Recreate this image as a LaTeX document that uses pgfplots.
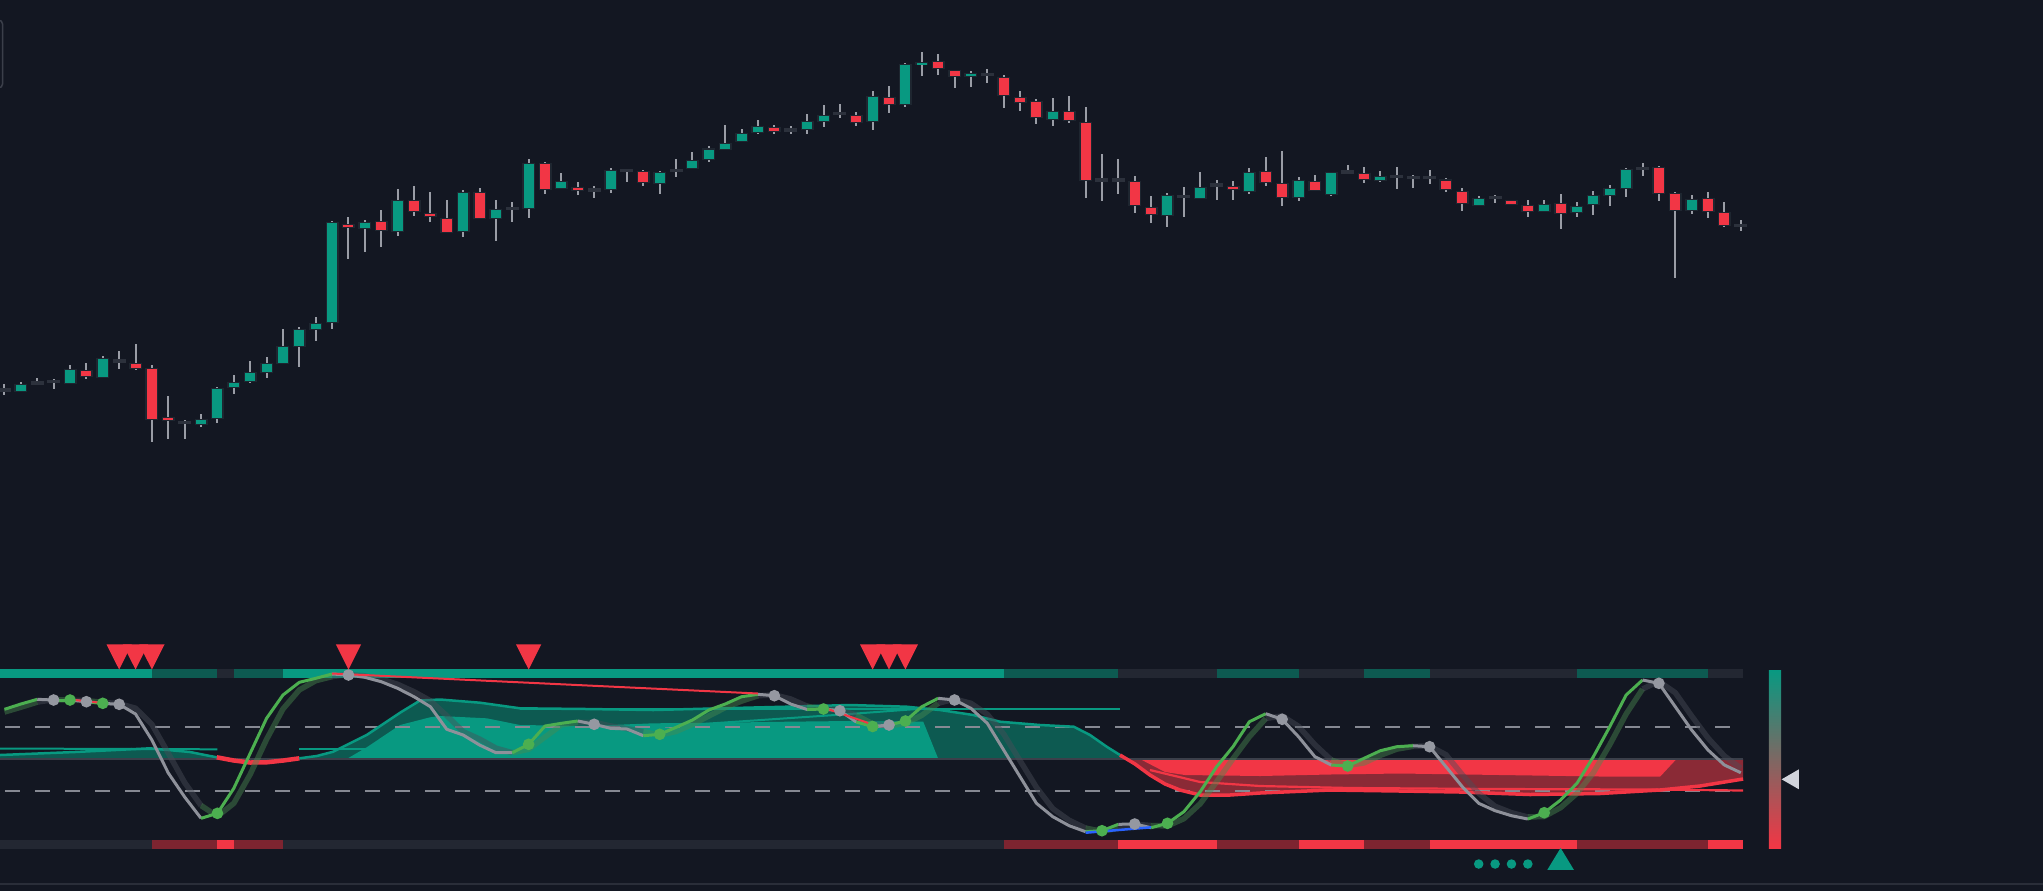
\documentclass[border=0pt]{standalone}
\usepackage{pgfplots}
\usepackage{pgfplotstable}
\pgfplotsset{compat=1.18}
\definecolor{tvbg}{HTML}{131722}
\definecolor{tvteal}{HTML}{089981}
\definecolor{tvred}{HTML}{F23645}
\definecolor{wickc}{HTML}{9A9DA6}
\definecolor{bordc}{HTML}{1E2630}
\definecolor{dojic}{HTML}{2C313C}
\definecolor{dteal}{HTML}{0D5A51}
\definecolor{dred}{HTML}{7D2430}
\definecolor{sgray}{HTML}{232732}
\definecolor{fdred}{HTML}{8A2A36}
\definecolor{kG}{HTML}{4CAF50}
\definecolor{kY}{HTML}{8E919A}
\definecolor{dotgray}{HTML}{9598A1}
\definecolor{dashc}{HTML}{868993}
\definecolor{midc}{HTML}{3B3F4A}
\definecolor{sepc}{HTML}{2A2E39}
\definecolor{blueline}{HTML}{2962FF}
\definecolor{ptrc}{HTML}{D1D4DC}
\definecolor{gradmid}{HTML}{7E6A6C}
\definecolor{dshY}{HTML}{4A4E59}
\definecolor{dshG}{HTML}{4A8A50}

% candles: i open high low close type (values are screen rows, axis reversed)
\pgfplotstableread{
i o h l c t
0 390 384 395 390 0
1 391.3 382 392 385.3 1
2 383 378.3 383.5 383 0
3 381.7 379.3 389.3 381.7 0
4 382.7 365 383.3 370.3 1
5 371.3 362.7 378.7 375.7 -1
6 376.7 356 377.3 359 1
7 361 351 368.7 361 0
8 364.3 344 369.7 367.7 -1
9 369 365 441.7 418.7 -1
10 418.3 396 438.7 420 -1
11 422.7 420 438.7 422.7 0
12 424.3 414 426.7 420 1
13 418.3 387.3 422.7 389 1
14 387.3 375 393.7 383.3 1
15 380.7 361 382.7 373 1
16 371.7 357 378 364 1
17 362.7 329 362.7 347.3 1
18 345.7 327.3 366.7 330 1
19 328.5 317 341 324.3 1
20 321.7 221 329 223.3 1
21 225 217.3 259 227.3 -1
22 228.3 220 252 222.7 1
23 222.3 210 246.7 230.3 -1
24 231 189 236 201.3 1
25 201.3 186 216 211.3 -1
26 214.3 192 221.7 216.3 -1
27 219.3 200 231.7 231.7 -1
28 231 190 236.7 193.3 1
29 193.3 188 217.7 217.7 -1
30 217.7 200 240.7 209.7 1
31 208.3 202 221.7 208.3 0
32 207.7 159.3 217.7 164.3 1
33 164.3 162.3 194 189 -1
34 188.3 173 189.3 182.3 1
35 188 182 195 190 -1
36 190 186 197.7 190 0
37 188.7 168.3 192.7 171 1
38 170.7 170 182 170.7 0
39 172 170 186 182.3 -1
40 182.7 171 193.7 173.3 1
41 170.7 159 176.7 170.7 0
42 167.7 152 168.3 161 1
43 158.7 146 161.7 149.5 1
44 148.7 125 150 143.7 1
45 140.7 129.3 142.3 133.7 1
46 131.7 120 133.7 126.7 1
47 128 125.3 134.3 130.7 -1
48 130 126 134.3 130 0
49 129.3 114 134 122 1
50 120.7 105 126.7 115.7 1
51 113.3 104 118 113.3 0
52 115.7 112 126 121.7 -1
53 121 91 130 97.3 1
54 97.7 86 112.7 104 -1
55 104.3 63.3 106.7 65 1
56 64.3 52 75.7 63 1
57 62 54 74.7 68 -1
58 70.7 70.7 87.7 76 -1
59 75.5 71 86.7 74.3 1
60 74.3 69 82.7 74.3 0
61 77.7 74.7 107.7 95.3 -1
62 97.7 91 110.7 101.7 -1
63 102.3 99 124 117.3 -1
64 119.3 98 125.7 112.3 1
65 112.3 96 123.3 120.3 -1
66 123.3 107 197.7 180 -1
67 180 154 200.7 180 0
68 180 159 194 180 0
69 182.3 176 212.7 205 -1
70 207.7 196 222.7 214 -1
71 215.3 193.3 226.7 196 1
72 196.7 187 216.7 196.7 0
73 197.7 172 198.3 188.3 1
74 185 180 200 185 0
75 186.7 180.7 200 189 -1
76 190.7 168 194 172.7 1
77 172 157 185.7 181.7 -1
78 184.3 151 205.7 196.7 -1
79 196.7 177 201 181.3 1
80 181.7 175 190.7 190 -1
81 194 171.7 195.7 173.3 1
82 172 165 172.5 172 0
83 173.7 166.7 182.7 179.3 -1
84 180 171 181.7 176.7 1
85 176.7 166.7 189 176.7 0
86 177.7 175 187.7 177.7 0
87 177.7 170 184 177.7 0
88 180.5 178 191.7 188.7 -1
89 191.7 187.7 211 203.3 -1
90 205.3 196 206 199.3 1
91 197.3 195 203 197.3 0
92 200.7 200 204.5 203.7 -1
93 205.7 200.3 217 211.3 -1
94 211.3 200.3 212 205.3 1
95 204.3 194 229 213 -1
96 212.3 202 217 207 1
97 203.7 191 214.7 196.3 1
98 195.3 185 206 189 1
99 187.7 168 196.7 169.7 1
100 168.7 163 175.7 168.7 0
101 168.3 166 201 193.3 -1
102 194 192.3 277.7 210.3 -1
103 209.7 195 213.7 200 1
104 199.3 192 217.7 211.3 -1
105 213 202 227.3 225 -1
106 225.3 220 230.7 225.3 0
}\candles

% oscillator: main line k and its signal d
\pgfplotstableread{
i k d
0 709.3 712
1 704 707.2
2 699.3 702.1
3 700 699.6
4 700 700
5 701.7 700.7
6 703.3 702.3
7 704.3 703.7
8 714 708.2
9 740 724.4
10 773 753.2
11 797 782.6
12 818.3 805.5
13 813.3 816.3
14 788.3 803.3
15 753.3 774.3
16 718.3 739.3
17 695 709
18 682.3 689.9
19 678.3 680.7
20 674 676.6
21 675 674.4
22 677.3 675.9
23 681.7 679.1
24 688.3 684.3
25 696.7 691.7
26 706.7 700.7
27 729.3 715.7
28 735 731.6
29 745 739
30 752.7 748.1
31 752.7 752.7
32 744.3 749.3
33 726 737
34 723.3 724.9
35 721 722.4
36 724.3 722.3
37 728.3 725.9
38 729 728.6
39 735.7 731.7
40 734.3 735.1
41 727.3 731.5
42 720 724.4
43 710 716
44 704 707.6
45 696.7 701.1
46 694.3 695.7
47 695.7 694.9
48 704 699
49 709.5 706.2
50 709 709.3
51 710.7 709.7
52 722 715.2
53 726.5 723.8
54 725 725.9
55 721 723.4
56 706.7 715.3
57 698.3 703.3
58 700 699
59 708.3 703.3
60 723.3 714.3
61 750 734
62 776.7 760.7
63 803.3 787.3
64 816.7 808.7
65 825.7 820.3
66 831.7 828.1
67 830.7 831.3
68 824.3 828.1
69 824 824.2
70 827.7 825.5
71 823.3 825.9
72 811.7 818.7
73 791.7 803.7
74 766.7 781.7
75 746.7 758.7
76 721.7 736.7
77 713.7 718.5
78 719.3 715.9
79 736.7 726.3
80 756.7 744.7
81 765 760
82 766 765.4
83 758.3 762.9
84 750.7 755.3
85 746.7 749.1
86 745.7 746.3
87 746.7 746.1
88 766.7 754.7
89 786.7 774.7
90 803.3 793.3
91 810.7 806.3
92 815.7 812.7
93 819 817
94 812.7 816.5
95 800 807.6
96 783.3 793.3
97 756.7 772.7
98 726.7 744.7
99 695 714
100 680 689
101 683.3 681.3
102 706.7 692.7
103 730 716
104 750 738
105 765 756
106 772.7 768.1
}\osc

\newcommand{\allruns}[1]{%
#1{0}{2}{G}#1{2}{3}{Y}#1{3}{4}{G}#1{4}{5}{Y}#1{5}{6}{G}#1{6}{12}{Y}%
#1{12}{20}{G}#1{20}{31}{Y}#1{31}{35}{G}#1{35}{39}{Y}#1{39}{46}{G}%
#1{46}{49}{Y}#1{49}{50}{G}#1{50}{52}{Y}#1{52}{53}{G}#1{53}{54}{Y}%
#1{54}{57}{G}#1{57}{66}{Y}#1{66}{68}{G}#1{68}{70}{Y}#1{70}{77}{G}%
#1{77}{81}{Y}#1{81}{86}{G}#1{86}{93}{Y}#1{93}{100}{G}#1{100}{106}{Y}}
\newcommand{\drun}[3]{\addplot[color=dsh#3, line width=0.55mm, draw opacity=0.45, line join=round] table[x=i,y=d,restrict x to domain=#1:#2]{\osc};}
\newcommand{\krun}[3]{\addplot[color=k#3, line width=0.3mm, line join=round] table[x=i,y=k,restrict x to domain=#1:#2]{\osc};}
\newcommand{\tstrip}[3]{\addplot[color=#3, line width=0.9mm] coordinates {(#1,673.8) (#2,673.8)};}
\newcommand{\bstrip}[3]{\addplot[color=#3, line width=0.9mm] coordinates {(#1,844.5) (#2,844.5)};}

\begin{document}
\begin{tikzpicture}
\fill[tvbg] (0,0) rectangle (204.3mm,89.1mm);
\begin{axis}[at={(0,0)}, anchor=south west, scale only axis,
  width=204.3mm, height=89.1mm,
  xmin=-0.2747, xmax=124.45, ymin=0, ymax=891, y dir=reverse,
  hide axis, clip=true,
  candle/.style={draw=none, mark=none, forget plot,
     error bars/y dir=both, error bars/y explicit, error bars/error mark=none}]

% ---------- candles ----------
\addplot[candle, error bars/error bar style={line width=0.2mm, draw=wickc}]
  table[x=i, y expr={(\thisrow{h}+\thisrow{l})/2}, y error expr={(\thisrow{l}-\thisrow{h})/2}]{\candles};
\addplot[candle, restrict expr to domain={abs(\thisrow{t})}{0.5:1.5},
  error bars/error bar style={line width=1.3mm, draw=bordc}]
  table[x=i, y expr={(\thisrow{o}+\thisrow{c})/2}, y error expr={max(abs(\thisrow{o}-\thisrow{c})/2,0.7)+1.1}]{\candles};
\addplot[candle, restrict expr to domain={\thisrow{t}}{-0.5:0.5},
  error bars/error bar style={line width=1.3mm, draw=dojic}]
  table[x=i, y expr={(\thisrow{o}+\thisrow{c})/2}, y error expr={1.6}]{\candles};
\addplot[candle, restrict expr to domain={\thisrow{t}}{0.5:1.5},
  error bars/error bar style={line width=1.0mm, draw=tvteal}]
  table[x=i, y expr={(\thisrow{o}+\thisrow{c})/2}, y error expr={max(abs(\thisrow{o}-\thisrow{c})/2,0.7)}]{\candles};
\addplot[candle, restrict expr to domain={\thisrow{t}}{-1.5:-0.5},
  error bars/error bar style={line width=1.0mm, draw=tvred}]
  table[x=i, y expr={(\thisrow{o}+\thisrow{c})/2}, y error expr={max(abs(\thisrow{o}-\thisrow{c})/2,0.7)}]{\candles};

% ---------- state strips ----------
\tstrip{-0.2747}{9}{tvteal}\tstrip{9}{13}{dteal}\tstrip{13}{14}{sgray}\tstrip{14}{17}{dteal}
\tstrip{17}{61}{tvteal}\tstrip{61}{68}{dteal}\tstrip{68}{74}{sgray}\tstrip{74}{79}{dteal}
\tstrip{79}{83}{sgray}\tstrip{83}{87}{dteal}\tstrip{87}{96}{sgray}\tstrip{96}{104}{dteal}
\tstrip{104}{106.14}{sgray}
\bstrip{-0.2747}{9}{sgray}\bstrip{9}{13}{dred}\bstrip{13}{14}{tvred}\bstrip{14}{17}{dred}
\bstrip{17}{61}{sgray}\bstrip{61}{68}{dred}\bstrip{68}{74}{tvred}\bstrip{74}{79}{dred}
\bstrip{79}{83}{tvred}\bstrip{83}{87}{dred}\bstrip{87}{96}{tvred}\bstrip{96}{104}{dred}
\bstrip{104}{106.14}{tvred}

% ---------- filled zones ----------
\addplot[fill=dteal, draw=none] coordinates {(-0.2747,759) (-0.2747,755) (4.30,752) (8.88,748.3) (11.32,752) (12.96,757.3) (13.1,759)};
\addplot[fill=dteal, draw=none] coordinates {(18.0,759) (18.0,758) (19.06,756) (20.07,751.7) (22.11,735) (24.15,712.7) (25.37,700.5) (26.59,699.5) (29.03,702.7) (31.47,708.3) (35.54,709) (39.61,710) (43.68,708.3) (47.75,706.7) (51.62,705) (55.08,706.7) (57.11,710) (59.15,715) (60.78,721.7) (63.22,725) (65.28,726.7) (66.27,735) (67.29,746.7) (68.10,755) (68.3,759)};
\addplot[fill=tvteal, draw=none] coordinates {(20.89,759) (22.11,747.3) (24.15,725) (25.98,717.3) (26.59,716) (29.44,718.3) (31.47,725) (35.54,726) (39.61,723.3) (43.68,722.7) (47.75,721.7) (51.62,721) (56.09,721.7) (57.01,759)};
\addplot[fill=fdred, draw=none] coordinates {(68.10,759) (68.10,755) (69.02,764) (69.93,775) (70.85,784) (71.76,790) (72.99,795) (74.82,795) (76.65,793) (80.92,790) (85.19,791) (88.86,792) (93.13,794.5) (97.40,793.5) (101.07,790) (103.51,786) (106.14,779) (106.14,759)};
\addplot[fill=tvred, draw=none] coordinates {(69.32,759) (70.85,772) (72.07,775) (76.65,776) (80.92,774.5) (85.19,773.5) (91.30,775) (97.40,776.5) (101.07,776.7) (101.99,760.5) (102.11,759)};

% ---------- reference levels ----------
\addplot[midc, line width=0.25mm] coordinates {(-0.2747,759) (106.14,759)};
\addplot[dashc, line width=0.2mm, dash pattern=on 1.5mm off 1.5mm, dash phase=2.5mm] coordinates {(-0.2747,727) (106.14,727)};
\addplot[dashc, line width=0.2mm, dash pattern=on 1.5mm off 1.5mm, dash phase=2.5mm] coordinates {(-0.2747,791) (106.14,791)};

% ---------- trend curves ----------
\addplot[tvteal, line width=0.2mm] coordinates {(-0.2747,748.5) (13.0,749.3)};
\addplot[tvteal, line width=0.2mm] coordinates {(17.98,749) (22.1,749)};
\addplot[tvteal, line width=0.2mm] coordinates {(31.47,709) (68.10,709)};
\addplot[tvteal, line width=0.2mm] coordinates {(39.6,727.3) (51.6,714) (56.1,708.5)};
\addplot[tvteal, line width=0.25mm] coordinates {(-0.2747,755) (4.30,752) (8.88,748.3) (11.32,752) (12.96,757.3)};
\addplot[tvred, line width=0.45mm] coordinates {(12.96,757.3) (14.0,760.5) (15.0,762.5) (16.0,762.3) (17.02,760.5) (18.0,758.3)};
\addplot[tvteal, line width=0.25mm] coordinates {(18.0,758.3) (19.06,756) (20.07,751.7) (22.11,735) (24.15,712.7) (25.37,700.5) (26.59,699.5) (29.03,702.7) (31.47,708.3) (35.54,709) (39.61,710) (43.68,708.3) (47.75,706.7) (51.62,705) (55.08,706.7) (57.11,710) (59.15,715) (60.78,721.7) (63.22,725) (65.28,726.7) (66.27,735) (67.29,746.7) (68.10,755)};
\addplot[tvred, line width=0.35mm] coordinates {(68.10,755) (69.02,764) (69.93,775) (70.85,784) (71.76,790) (72.99,795) (74.82,795) (76.65,793) (80.92,790) (85.19,791) (88.86,792) (93.13,794.5) (97.40,793.5) (101.07,790) (103.51,786) (106.14,779)};
\addplot[tvred, line width=0.22mm] coordinates {(69.93,770) (72.99,782) (76.65,786) (82.14,788) (91.30,789) (100.46,789.5) (106.14,790.5)};

% ---------- oscillator ----------
\allruns{\drun}
\allruns{\krun}
\addplot[tvred, line width=0.2mm] coordinates {(4,699.5) (6,703)};
\addplot[tvred, line width=0.2mm] coordinates {(20,673.5) (46,693.5)};
\addplot[tvred, line width=0.2mm] coordinates {(50,707.5) (53,724.5)};
\addplot[blueline, line width=0.25mm] coordinates {(66,832.7) (70,827.3)};
\addplot[only marks, color=kG, mark=*, mark size=1.45pt, mark options={draw=kG, fill=kG}] coordinates {(4,700) (6,703.3) (13,813.3) (32,744.3) (40,734.3) (50,709) (53,726.5) (55,721) (67,830.7) (71,823.3) (82,766) (94,812.7)};
\addplot[only marks, color=dotgray, mark=*, mark size=1.45pt, mark options={draw=dotgray, fill=dotgray}] coordinates {(3,700) (5,701.7) (7,704.3) (21,675) (36,724.3) (47,695.7) (51,710.7) (54,725) (58,700) (69,824) (78,719.3) (87,746.7) (101,683.3)};

% ---------- signals ----------
\addplot[only marks, color=tvred, mark=triangle*, mark size=3.78pt, mark options={rotate=180, yscale=1.15, draw=tvred, fill=tvred}] coordinates {(7,652.7) (8,652.7) (9,652.7) (21,652.7) (32,652.7) (53,652.7) (54,652.7) (55,652.7)};
\addplot[only marks, color=tvteal, mark=triangle*, mark size=3.98pt, mark options={yscale=0.95, draw=tvteal, fill=tvteal}] coordinates {(95,862.6)};
\addplot[only marks, color=tvteal, mark=*, mark size=1.14pt, mark options={draw=tvteal, fill=tvteal}] coordinates {(90,864) (91,864) (92,864) (93,864)};

% ---------- scale bar and current value ----------
\shade[top color=tvteal, middle color=gradmid, bottom color=tvred] (axis cs:107.72,670) rectangle (axis cs:108.46,848);
\addplot[only marks, color=ptrc, mark=triangle*, mark size=2.85pt, mark options={rotate=90, draw=ptrc, fill=ptrc}] coordinates {(109.19,779.3)};

\addplot[sepc, line width=0.2mm] coordinates {(-0.2747,883.5) (124.45,883.5)};
\draw[color=midc, line width=0.15mm, rounded corners=0.4mm] (axis cs:-1,20) -- (axis cs:-0.12,20) -- (axis cs:-0.12,88) -- (axis cs:-1,88);
\end{axis}
\pgfresetboundingbox
\path[use as bounding box] (0,0) rectangle (204.3mm,89.1mm);
\end{tikzpicture}
\end{document}
